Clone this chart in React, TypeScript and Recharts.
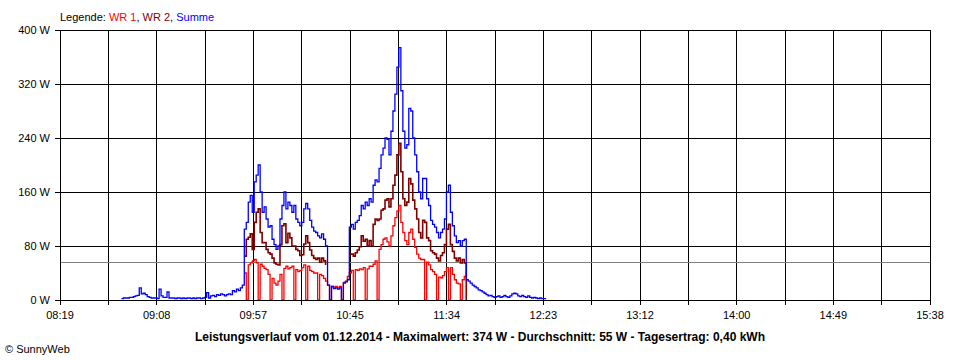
import { LineChart, Line, XAxis, YAxis, CartesianGrid, ReferenceLine } from "recharts";

// minutes after midnight
const X_MIN = 499; // 08:19
const X_MAX = 938; // 15:38
const START_SUMME = 530;
const START_WR = 592;

const timeLabels = ["08:19", "09:08", "09:57", "10:45", "11:34", "12:23", "13:12", "14:00", "14:49", "15:38"];
const yTicks = [0, 80, 160, 240, 320, 400];
const averageW = 55;

// Summe, one value per minute from 08:50
const summeW = [
  2, 3, 3, 3, 4, 4, 5, 6, 7, 18,
  9, 10, 8, 5, 4, 3, 3, 3, 2, 16,
  6, 4, 4, 12, 3, 3, 3, 2, 3, 3,
  2, 3, 2, 3, 3, 2, 3, 2, 3, 3,
  2, 3, 4, 11, 3, 6, 7, 5, 8, 7,
  9, 8, 6, 8, 9, 8, 14, 12, 16, 14,
  18, 22, 105, 115, 145, 155, 130, 175, 185, 200,
  160, 130, 138, 120, 108, 110, 90, 82, 75, 80,
  120, 140, 160, 135, 145, 140, 130, 140, 120, 115,
  110, 115, 135, 143, 135, 118, 108, 102, 100, 95,
  92, 98, 90, 80, 22, 0, 20, 17, 18, 16,
  18, 0, 25, 27, 30, 108, 112, 105, 115, 118,
  125, 140, 135, 145, 140, 150, 145, 170, 178, 175,
  195, 215, 225, 240, 238, 215, 250, 280, 305, 345,
  374, 310, 250, 225, 230, 284, 280, 240, 215, 190,
  160, 150, 180, 180, 150, 140, 118, 112, 108, 100,
  92, 100, 105, 120, 160, 170, 130, 110, 95, 85,
  88, 80, 88, 90, 30, 28, 25, 22, 20, 18,
  15, 14, 12, 10, 8, 6, 7, 5, 4, 5,
  6, 4, 5, 7, 5, 4, 6, 9, 10, 9,
  6, 5, 7, 5, 4, 6, 4, 3, 4, 3,
  2, 3, 2, 2, 1,
];

// WR 1, one value per minute from 09:52
const wr1W = [
  40, 0, 52, 55, 58, 60, 55, 0, 53, 50,
  47, 45, 38, 0, 32, 25, 22, 28, 38, 0,
  47, 50, 46, 48, 50, 0, 45, 42, 44, 48,
  52, 0, 50, 44, 42, 40, 40, 0, 38, 36,
  32, 28, 22, 0, 20, 19, 20, 18, 20, 0,
  26, 28, 35, 40, 44, 0, 45, 44, 46, 45,
  48, 0, 46, 50, 50, 53, 58, 0, 75, 82,
  90, 92, 86, 80, 95, 110, 122, 132, 140, 115,
  100, 88, 82, 100, 105, 90, 78, 68, 62, 60,
  60, 0, 56, 52, 45, 42, 38, 0, 34, 33,
  36, 42, 48, 0, 48, 38, 30, 25, 24, 0,
  30, 35, 40,
];

// WR 2, one value per minute from 09:52
const wr2W = [
  65, 90, 93, 98, 75, 115, 130, 135, 100, 85,
  85, 75, 70, 68, 62, 55, 53, 52, 82, 110,
  113, 85, 99, 92, 80, 80, 75, 73, 66, 67,
  83, 95, 85, 74, 66, 62, 60, 62, 56, 62,
  58, 52, null, null, null, null, null, null, null, null,
  null, null, null, 68, 68, 65, 70, 74, 79, 95,
  87, 90, 80, 88, 80, 112, 120, 118, 120, 133,
  135, 148, 150, 138, 150, 170, 185, 215, 232, 190,
  150, 140, 145, 180, 172, 148, 135, 120, 100, 92,
  118, 115, 92, 88, 73, 70, 68, 62, 58, 66,
  70, 82, 105, 112, 82, 72, 62, 58, 62, 55,
  60, 55, 0,
];

const xTicks = timeLabels.flatMap((_, i) =>
  i === 0 ? [X_MIN] : [X_MIN + ((i * 2 - 1) * (X_MAX - X_MIN)) / 18, X_MIN + (i * 2 * (X_MAX - X_MIN)) / 18]
);

const data = summeW.map((v, i) => {
  const t = START_SUMME + i;
  const k = t - START_WR;
  return {
    t,
    summe: v,
    wr1: k >= 0 && k < wr1W.length ? wr1W[k] : null,
    wr2: k >= 0 && k < wr2W.length ? wr2W[k] : null,
  };
});

const font = "'Liberation Sans', Arial, sans-serif";
const tickStyle = { fontSize: 11, fill: "#000", fontFamily: font };

export default function App() {
  return (
    <div style={{ position: "absolute", left: 0, top: 0, width: 960, height: 360, background: "#fff", fontFamily: font }}>
      <style>{`.sw-chart line { shape-rendering: crispEdges; }`}</style>
      <div style={{ position: "absolute", left: 60, top: 10, fontSize: 11, lineHeight: "14px", color: "#000" }}>
        Legende: <span style={{ color: "#ff0000" }}>WR 1</span>, <span style={{ color: "#800000" }}>WR 2</span>,{" "}
        <span style={{ color: "#0000ff" }}>Summe</span>
      </div>
      <div className="sw-chart">
        <LineChart width={960} height={360} data={data} margin={{ top: 30, right: 30, bottom: 30, left: 0 }}>
          <CartesianGrid stroke="#000" strokeOpacity={1} />
          <XAxis
            dataKey="t"
            type="number"
            domain={[X_MIN, X_MAX]}
            ticks={xTicks}
            interval={0}
            height={30}
            tickSize={5}
            tickMargin={6}
            tickLine={{ stroke: "#000" }}
            axisLine={{ stroke: "#000" }}
            tick={tickStyle}
            tickFormatter={(_v, i) => (i % 2 === 0 ? timeLabels[i / 2] : "")}
          />
          <YAxis
            type="number"
            domain={[0, 400]}
            ticks={yTicks}
            width={60}
            tickSize={5}
            tickMargin={5}
            tickLine={{ stroke: "#000" }}
            axisLine={{ stroke: "#000" }}
            tick={tickStyle}
            tickFormatter={(v) => `${v} W`}
          />
          <ReferenceLine y={averageW} stroke="#808080" strokeWidth={1} />
          <Line type="stepAfter" dataKey="wr1" stroke="#ff0000" strokeWidth={1.3} dot={false} isAnimationActive={false} />
          <Line type="stepAfter" dataKey="wr2" stroke="#800000" strokeWidth={1.6} dot={false} isAnimationActive={false} />
          <Line type="stepAfter" dataKey="summe" stroke="#0000ff" strokeWidth={1.3} dot={false} isAnimationActive={false} />
        </LineChart>
      </div>
      <div
        style={{
          position: "absolute",
          left: 0,
          width: 960,
          top: 330,
          textAlign: "center",
          fontSize: 12,
          fontWeight: "bold",
          lineHeight: "14px",
          color: "#000",
        }}
      >
        Leistungsverlauf vom 01.12.2014 - Maximalwert: 374 W - Durchschnitt: 55 W - Tagesertrag: 0,40 kWh
      </div>
      <div style={{ position: "absolute", left: 5, top: 342, fontSize: 11, lineHeight: "14px", color: "#000" }}>
        © SunnyWeb
      </div>
    </div>
  );
}
